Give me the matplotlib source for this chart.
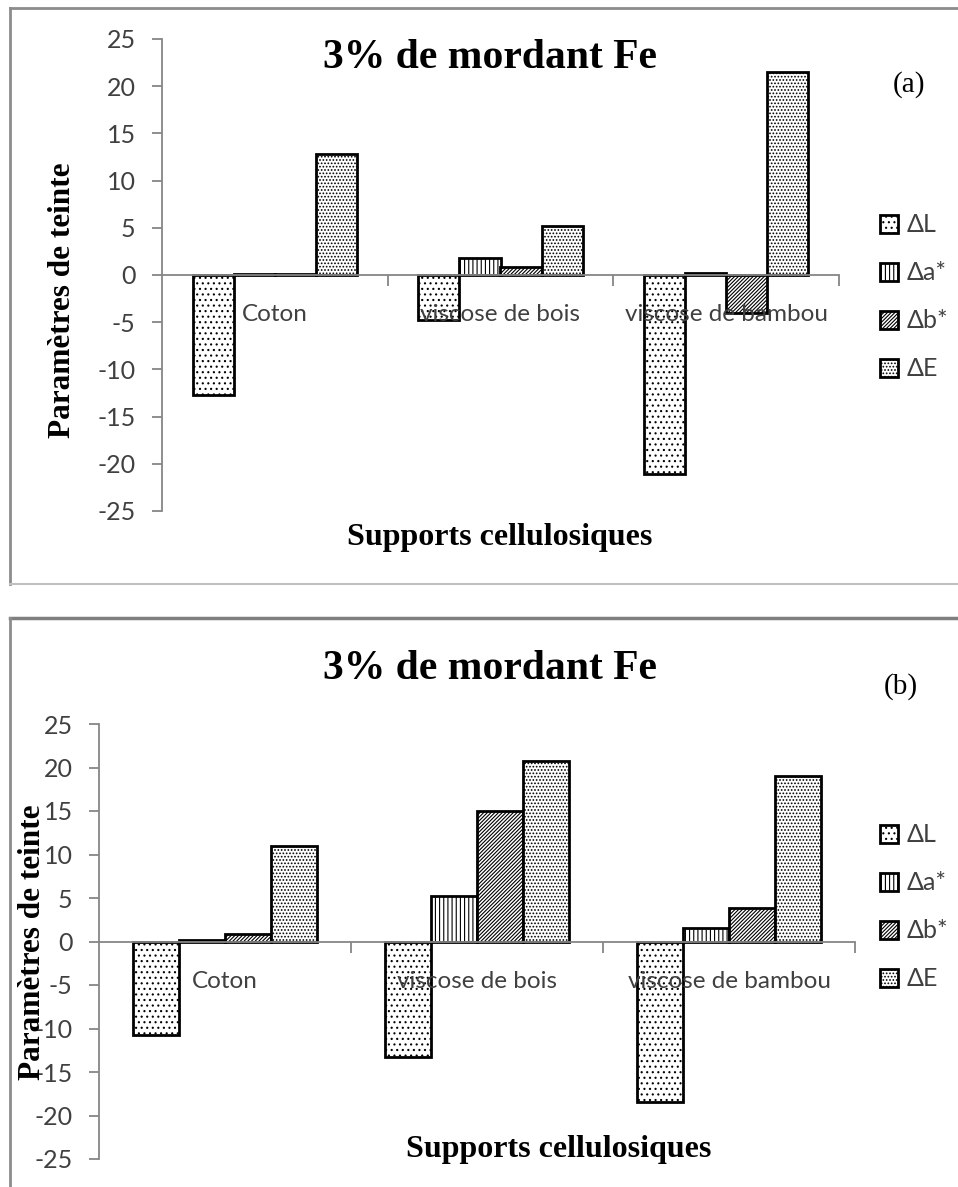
import numpy as np
import matplotlib
matplotlib.use('Agg')
import matplotlib.pyplot as plt
from matplotlib.lines import Line2D

categories = ['Coton', 'viscose de bois', 'viscose de bambou']
series = ['ΔL', 'Δa*', 'Δb*', 'ΔE']

# panel (a)
a_dL = [-12.7, -4.8, -21.1]
a_da = [0.1, 1.8, 0.2]
a_db = [0.1, 0.9, -4.0]
a_dE = [12.8, 5.2, 21.5]

# panel (b)
b_dL = [-10.8, -13.3, -18.5]
b_da = [0.2, 5.2, 1.6]
b_db = [0.9, 15.0, 3.9]
b_dE = [11.0, 20.7, 19.0]

yticks = [-25, -20, -15, -10, -5, 0, 5, 10, 15, 20, 25]
title = '3% de mordant Fe'
xlabel = 'Supports cellulosiques'
ylabel = 'Paramètres de teinte'

hatches = ['...', '||||', '/////////', '.....']
sans = ['Lato', 'DejaVu Sans']
serif = 'Liberation Serif'
grey = '#868686'
txt = '#404040'

plt.rcParams['hatch.linewidth'] = 0.8

W, H = 958, 1187
fig = plt.figure(figsize=(W / 100, H / 100), dpi=100)


def fx(px):
    return px / W


def fy(py):
    return 1 - py / H


panels = [
    dict(data=[a_dL, a_da, a_db, a_dE], ax=(162, 39, 839, 511), tag='(a)',
         tag_xy=(909, 92), title_y=68, xl=(500, 545), yl=(63, 300), leg=(880, 297)),
    dict(data=[b_dL, b_da, b_db, b_dE], ax=(99, 724, 855, 1159), tag='(b)',
         tag_xy=(901, 694), title_y=679, xl=(559, 1157), yl=(33, 942), leg=(880, 907)),
]

x = np.arange(len(categories))
w = 1 / 5.5

for p in panels:
    l, t, r, b = p['ax']
    ax = fig.add_axes([fx(l), fy(b), fx(r) - fx(l), fy(t) - fy(b)])
    bars = []
    for i, vals in enumerate(p['data']):
        bc = ax.bar(x + (i - 1.5) * w, vals, width=w, facecolor='white',
                    edgecolor='black', linewidth=2, hatch=hatches[i], label=series[i])
        bars.append(bc)
    ax.set_xlim(-0.5, 2.5)
    ax.set_ylim(-25, 25)
    ax.set_yticks(yticks)
    ax.set_yticklabels([str(v) for v in yticks], family=sans, fontsize=18, color=txt)
    ax.tick_params(axis='y', direction='out', length=7, width=1.3, color=grey, pad=12)
    ax.spines['left'].set_color(grey)
    ax.spines['left'].set_linewidth(1.3)
    ax.spines['bottom'].set_position(('data', 0))
    ax.spines['bottom'].set_color(grey)
    ax.spines['bottom'].set_linewidth(1.3)
    ax.spines['top'].set_visible(False)
    ax.spines['right'].set_visible(False)
    ax.set_xticks([0.5, 1.5, 2.5])
    ax.set_xticklabels([])
    ax.tick_params(axis='x', which='major', direction='out', length=8, width=1.3, color=grey)
    ax.set_xticks(x, minor=True)
    ax.set_xticklabels(categories, minor=True, family=sans, fontsize=17.5, color=txt)
    ax.tick_params(axis='x', which='minor', length=0, pad=21)
    ax.patch.set_alpha(0)

    fig.text(fx(490), fy(p['title_y']), title, family=serif, fontweight='bold',
             fontsize=30, ha='center', va='baseline')
    fig.text(fx(p['tag_xy'][0]), fy(p['tag_xy'][1]), p['tag'], family=serif,
             fontsize=21, ha='center', va='baseline')
    fig.text(fx(p['xl'][0]), fy(p['xl'][1]), xlabel, family=serif, fontweight='bold',
             fontsize=23, ha='center', va='baseline')
    fig.text(fx(p['yl'][0]), fy(p['yl'][1]), ylabel, family=serif, fontweight='bold',
             fontsize=22.5, ha='center', va='center', rotation=90)

    fig.legend(handles=bars, labels=series, loc='center left',
               bbox_to_anchor=(fx(p['leg'][0]), fy(p['leg'][1])), frameon=False,
               prop={'family': sans, 'size': 18}, labelcolor=txt,
               handlelength=0.7, handleheight=0.7, handletextpad=0.35,
               labelspacing=1.0, borderpad=0, borderaxespad=0)

# panel frames
frames = [
    ([10, W], [8, 8], '#8c8c8c', 2.0),
    ([10, 10], [8, 584], '#8c8c8c', 2.0),
    ([10, W], [584, 584], '#c0c0c0', 1.5),
    ([10, W], [618, 618], '#7f7f7f', 2.5),
    ([10, 10], [618, H], '#8c8c8c', 2.0),
]
for xs, ys, c, lw in frames:
    fig.add_artist(Line2D([fx(v) for v in xs], [fy(v) for v in ys],
                          transform=fig.transFigure, color=c, linewidth=lw))

plt.savefig('out.png', dpi=100)
